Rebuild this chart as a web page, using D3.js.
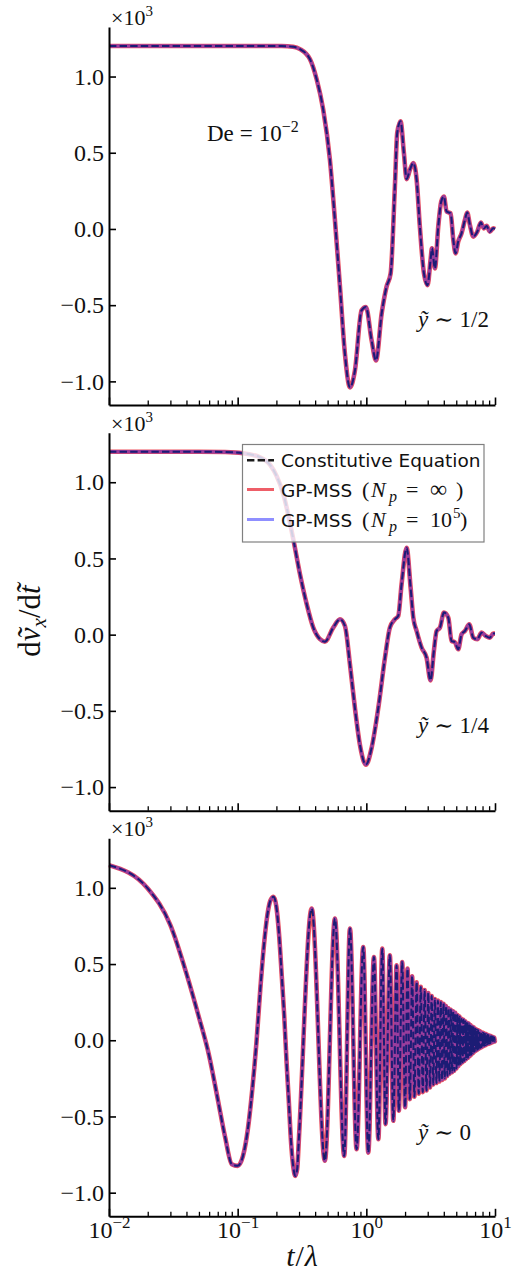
<!DOCTYPE html>
<html><head><meta charset="utf-8">
<script src="https://cdn.jsdelivr.net/npm/d3@7"></script>
<style>body{margin:0;background:#fff}svg{display:block}</style>
</head><body>
<script>
// ---------------- data (values in units of 10^3) ----------------
const tTop = [0.01,0.10,0.22,0.27,0.305,0.365,0.411,0.462,0.521,0.570,0.624,0.682,0.746,0.815,0.918,0.993,1.099,1.189,1.315,1.435,1.545,1.667,1.738,1.845,1.959,2.056,2.183,2.317,2.460,2.606,2.805,2.992,3.155,3.236,3.412,3.622,3.819,4.009,4.207,4.519,4.742,4.943,5.176,5.495,5.834,6.081,6.383,6.776,7.278,7.762,8.204,8.610,9.120,9.683,10];
const vTop = [1.20,1.20,1.20,1.195,1.18,1.113,0.982,0.784,0.455,0.059,-0.38,-0.82,-1.04,-0.93,-0.534,-0.512,-0.731,-0.863,-0.556,-0.38,-0.292,0.279,0.63,0.707,0.498,0.327,0.389,0.433,0.323,0.015,-0.292,-0.369,-0.204,-0.127,-0.259,0.015,0.18,0.213,0.114,0.103,-0.072,-0.16,-0.083,-0.029,0.059,0.108,0.026,-0.05,-0.018,0.042,0.004,0.02,-0.018,0.004,0.0];

const tMid = [0.01,0.05,0.08,0.11,0.149,0.18,0.201,0.226,0.270,0.305,0.344,0.387,0.437,0.476,0.553,0.624,0.682,0.746,0.815,0.891,0.993,1.099,1.239,1.396,1.524,1.667,1.770,1.879,2.056,2.208,2.317,2.460,2.692,2.938,3.155,3.350,3.516,3.733,4.009,4.335,4.592,4.875,5.176,5.495,5.834,6.310,6.776,7.278,7.870,8.492,9.120,9.683,10];
const vMid = [1.20,1.20,1.198,1.19,1.164,1.11,1.04,0.924,0.63,0.397,0.200,0.046,-0.030,-0.046,0.046,0.101,0.057,-0.195,-0.480,-0.721,-0.853,-0.743,-0.480,-0.151,0.046,0.101,0.123,0.331,0.57,0.309,0.112,0.024,-0.086,-0.151,-0.30,-0.107,0.024,0.046,0.145,0.112,-0.041,-0.05,-0.096,0.002,0.024,0.068,-0.020,-0.030,0.013,-0.009,-0.020,0.007,0.007];

const tBot = [0.01,0.02,0.03,0.04,0.05,0.06,0.07,0.08,0.09,0.10,0.11,0.12,0.13,0.14,0.15,0.16,0.17,0.18,0.19,0.20,0.21,0.22,0.23,0.24,0.25,0.26,0.27,0.28,0.29,0.30,
  0.376,0.476,0.570,0.673,0.746,0.840,0.946,1.035,1.146,1.24,1.33,1.41,1.524,1.62,1.718,1.79,1.90,2.0,2.09,2.18,
  2.27,2.365,2.46,2.555,2.65,2.745,2.84,2.935,3.03,3.125,3.22,3.315,3.41,3.505,3.60,3.695,3.79,3.885,3.98,4.075,
  4.17,4.265,4.36,4.455,4.55,4.645,4.74,4.835,4.93,5.025,5.12,5.215,5.31,5.405,5.50,5.595,5.69,5.785,5.88,5.975,
  6.07,6.165,6.26,6.355,6.45,6.545,6.64,6.735,6.83,6.925,7.02,7.115,7.21,7.305,7.40,7.495,7.59,7.685,7.78,7.875,
  7.97,8.065,8.16,8.255,8.35,8.445,8.54,8.635,8.73,8.825,8.92,9.015,9.11,9.205,9.30,9.395,9.49,9.585,9.68,9.775,9.87,9.965,10];
const vBot = [1.149,0.996,0.755,0.437,0.151,-0.101,-0.386,-0.638,-0.813,-0.824,-0.759,-0.583,-0.32,-0.013,0.338,0.623,0.82,0.919,0.941,0.875,0.689,0.426,0.163,-0.145,-0.408,-0.67,-0.824,-0.89,-0.846,-0.627,
  0.864,-0.791,0.799,-0.759,0.733,-0.715,0.612,-0.737,0.546,-0.649,0.601,-0.55,0.557,-0.528,0.491,-0.462,0.513,-0.44,0.47,-0.386,
  0.42,-0.37,0.38,-0.35,0.35,-0.34,0.33,-0.33,0.31,-0.31,0.29,-0.29,0.27,-0.28,0.26,-0.27,0.25,-0.26,0.24,-0.25,
  0.225,-0.235,0.21,-0.22,0.20,-0.21,0.19,-0.20,0.18,-0.185,0.165,-0.17,0.155,-0.155,0.14,-0.145,0.135,-0.135,0.125,-0.125,
  0.115,-0.115,0.11,-0.105,0.10,-0.095,0.09,-0.085,0.085,-0.075,0.075,-0.068,0.07,-0.062,0.065,-0.056,0.06,-0.05,0.055,-0.045,
  0.05,-0.04,0.047,-0.036,0.043,-0.032,0.04,-0.028,0.036,-0.025,0.033,-0.022,0.03,-0.019,0.027,-0.016,0.024,-0.013,0.021,-0.01,0.018,-0.008,0.0];

const panelNotes = ["1/2","1/4","0"];
const seriesNames = ["Constitutive Equation","GP-MSS","GP-MSS"];
const seriesMath = [null, "\u221E", "10"];
const xMajor = [0.01,0.1,1,10];
const xMajorExp = ["\u22122","\u22121","0","1"];
const yTicks = [-1,-0.5,0,0.5,1];
const yDomain = [-1.155,1.325];
const xDomain = [0.01,10];

// ---------------- layout ----------------
const W=512,H=1275, left=109, right=495;
const panelTops=[27,432.7,838.3], panelH=378;
const serif = "'Liberation Serif','DejaVu Serif',serif";
const sans = "'DejaVu Sans',sans-serif";

const svg = d3.select("body").append("svg").attr("width",W).attr("height",H);
const x = d3.scaleLog().domain(xDomain).range([left,right]);
const panels = [[tTop,vTop],[tMid,vMid],[tBot,vBot]];

const RED="#e8202e", BLUE="#2020ff";

panels.forEach((p,i)=>{
  const top=panelTops[i], bot=top+panelH;
  const y=d3.scaleLinear().domain(yDomain).range([bot,top]);
  const g=svg.append("g");
  const pts=d3.zip(p[0],p[1]);
  const line=d3.line().x(d=>x(d[0])).y(d=>y(d[1])).curve(d3.curveMonotoneX);
  g.append("path").attr("d",line(pts)).attr("fill","none").attr("stroke",RED)
    .attr("stroke-opacity",0.78).attr("stroke-width",4.6).attr("stroke-linejoin","round");
  g.append("path").attr("d",line(pts)).attr("fill","none").attr("stroke","#1a1a1a")
    .attr("stroke-width",2).attr("stroke-dasharray","7.4,3.2");
  g.append("path").attr("d",line(pts)).attr("fill","none").attr("stroke",BLUE)
    .attr("stroke-opacity",0.4).attr("stroke-width",3.4).attr("stroke-linejoin","round");

  const ya=g.append("g").attr("transform",`translate(${left},0)`)
    .call(d3.axisLeft(y).tickValues(yTicks).tickSize(-7).tickSizeOuter(0).tickPadding(5).tickFormat(d3.format(".1f")));
  ya.select(".domain").attr("stroke-width",2);
  ya.selectAll(".tick line").attr("stroke-width",1.6);
  ya.selectAll("text").attr("font-family",serif).attr("font-size",24).attr("fill","#111");

  const minor = x.ticks().filter(v=>!xMajor.some(m=>Math.abs(m-v)/m<1e-6));
  const xm=g.append("g").attr("transform",`translate(0,${bot})`)
    .call(d3.axisBottom(x).tickValues(minor).tickSize(-4.5).tickSizeOuter(0).tickFormat(""));
  xm.select(".domain").remove();
  xm.selectAll(".tick line").attr("stroke-width",1.3);
  const xa=g.append("g").attr("transform",`translate(0,${bot})`)
    .call(d3.axisBottom(x).tickValues(xMajor).tickSize(-7.5).tickSizeOuter(0).tickFormat(""));
  xa.select(".domain").attr("stroke-width",2);
  xa.selectAll(".tick line").attr("stroke-width",1.6);
  if(i===2){
    xa.selectAll(".tick").each(function(d,k){
      const t=d3.select(this).append("text").attr("y",22).attr("fill","#111")
        .attr("font-family",serif).attr("font-size",24).attr("text-anchor","middle");
      t.append("tspan").text("10");
      t.append("tspan").attr("dy",-10).attr("font-size",17).text(xMajorExp[k]);
    });
  }
  const m=g.append("text").attr("x",111).attr("y",top-2).attr("font-family",serif).attr("font-size",22).attr("fill","#111");
  m.append("tspan").text("\u00D710");
  m.append("tspan").attr("dy",-9).attr("font-size",15).text("3");

  const nb=[327,733,1140][i];
  const n=g.append("text").attr("x",418).attr("y",nb).attr("font-family",serif).attr("font-size",23).attr("fill","#111");
  n.append("tspan").attr("font-style","italic").text("y\u0303");
  n.append("tspan").attr("dx",6).text("\u223C");
  n.append("tspan").attr("dx",6).text(panelNotes[i]);
});

{
  const t=svg.append("text").attr("x",207).attr("y",141).attr("font-family",serif).attr("font-size",23).attr("fill","#111");
  t.append("tspan").text("De");
  t.append("tspan").attr("dx",6).text("=");
  t.append("tspan").attr("dx",6).text("10");
  t.append("tspan").attr("dy",-9).attr("font-size",16).text("\u22122");
}

{
  const t=svg.append("text").attr("transform","translate(40,621) rotate(-90)").attr("text-anchor","middle")
    .attr("font-family",serif).attr("font-size",31).attr("fill","#111");
  t.append("tspan").text("d");
  t.append("tspan").attr("font-style","italic").text("\u1E7D");
  t.append("tspan").attr("font-style","italic").attr("font-size",21).attr("dy",6).text("x");
  t.append("tspan").attr("dy",-6).text("/d");
  t.append("tspan").attr("font-style","italic").text("t\u0303");
}
{
  const t=svg.append("text").attr("x",(left+right)/2).attr("y",1266).attr("text-anchor","middle")
    .attr("font-family",serif).attr("font-size",30).attr("fill","#111");
  t.append("tspan").attr("font-style","italic").text("t");
  t.append("tspan").attr("dx",1).text("/");
  t.append("tspan").attr("dx",1).attr("font-style","italic").text("\u03BB");
}

{
  const lg=svg.append("g");
  lg.append("rect").attr("x",242.5).attr("y",444.5).attr("width",241.5).attr("height",97.5)
    .attr("fill","#fff").attr("fill-opacity",0.8).attr("stroke","#808080").attr("stroke-width",1.2);
  const base=[467.3,496.5,526.5];
  const styles=[{c:"#1a1a1a",o:1,w:2.6,dash:"7.4,3.2"},{c:RED,o:0.72,w:3,dash:null},{c:BLUE,o:0.5,w:3,dash:null}];
  seriesNames.forEach((nm,k)=>{
    const s=styles[k];
    const ln=lg.append("line").attr("x1",247).attr("x2",274).attr("y1",base[k]-7).attr("y2",base[k]-7)
      .attr("stroke",s.c).attr("stroke-opacity",s.o).attr("stroke-width",s.w);
    if(s.dash) ln.attr("stroke-dasharray",s.dash);
    lg.append("text").attr("x",281).attr("y",base[k]).attr("fill","#111")
      .attr("font-family",sans).attr("font-size",18.5).text(nm);
    if(seriesMath[k]){
      const f=(xx,txt,opt={})=>{
        const t=lg.append("text").attr("x",xx).attr("y",base[k]+(opt.dy||0)).attr("fill","#111")
          .attr("font-family",serif).attr("font-size",opt.fs||22).text(txt);
        if(opt.it) t.attr("font-style","italic");
      };
      f(362,"(");
      f(371,"N",{it:true});
      f(389,"p",{it:true,fs:16,dy:5});
      f(406,"=");
      if(k===1){ f(430,"\u221E",{fs:24}); f(456,")"); }
      else { f(430,"10"); f(453,"5",{fs:15,dy:-9}); f(460,")"); }
    }
  });
}
</script>
</body></html>
